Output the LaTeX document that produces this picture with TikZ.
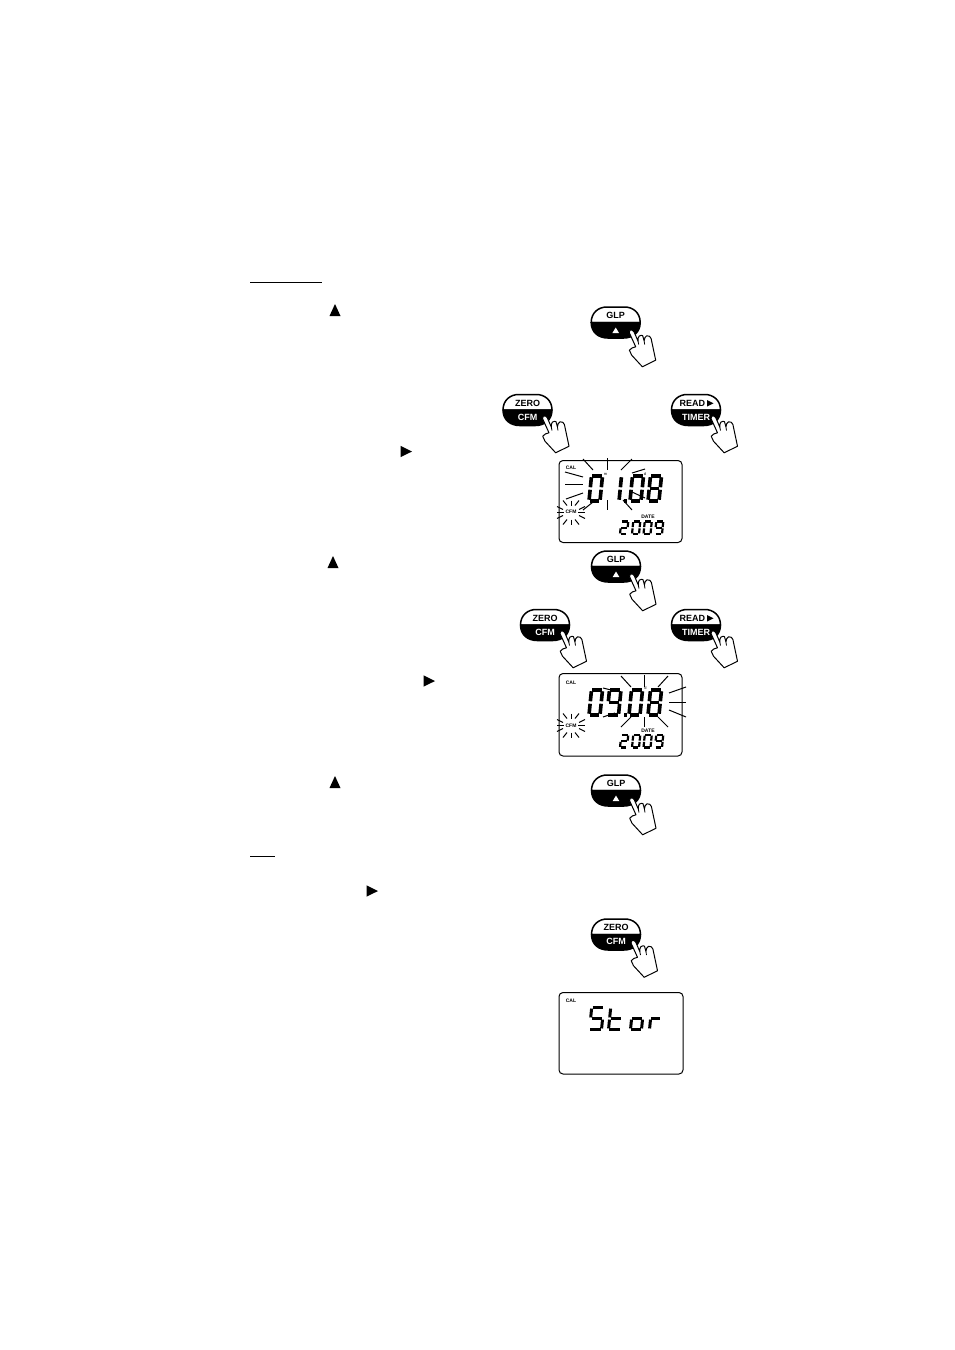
\documentclass[tikz,border=0pt]{standalone}
\usepackage{fontspec}
\setmainfont{Liberation Sans}
\tikzset{
  x=1pt,y=-1pt,
  btntop/.style={fill=white,draw=black,line width=1.5pt,line join=round},
  btnbot/.style={fill=black,draw=black,line width=1.5pt,line join=round},
  btnlabel/.style={inner sep=0pt,font=\fontsize{9}{10}\selectfont\bfseries},
  handshape/.style={fill=white,draw=black,line width=1pt,line join=round},
  lcdframe/.style={draw=black,line width=1pt,fill=white,rounded corners=4pt},
  ray/.style={draw=black,line width=1pt},
  tinylabel/.style={inner sep=0pt,font=\fontsize{5}{5}\selectfont\bfseries},
  rulestroke/.style={draw=black,line width=1pt},
  trisym/.style={fill=black,draw=none}
}
% segments in a unit box, y upward from the digit's lower-left corner
\def\sega{(.08,1)--(.92,1)}
\def\segb{(1,.95)--(1,.55)}
\def\segc{(1,.45)--(1,.05)}
\def\segd{(.08,0)--(.92,0)}
\def\sege{(0,.45)--(0,.05)}
\def\segf{(0,.95)--(0,.55)}
\def\segg{(.08,.5)--(.92,.5)}
% x, y(bottom), width, height, line width, segments
\newcommand{\lcdchar}[6]{%
  \begin{scope}[shift={(#1,#2)},xslant=.1,x=#3pt,y=#4pt]
    \foreach \s in {#6}{\draw[line width=#5pt,line cap=butt] \csname seg\s\endcsname;}
  \end{scope}}
\newcommand{\btn}[6]{% name, x, y, top, bottom text, top text x
  \begin{scope}[shift={(#2,#3)}]
    \path[btntop] (-24.5,0) .. controls (-24.5,-10) and (-17,-15.5) .. (-9,-15.5) -- (9,-15.5) .. controls (17,-15.5) and (24.5,-10) .. (24.5,0) -- cycle;
    \path[btnbot] (-24.5,0) .. controls (-24.5,10) and (-17,15.5) .. (-8,15.5) -- (8,15.5) .. controls (17,15.5) and (24.5,10) .. (24.5,0) -- cycle;
    \node[btnlabel] (#1top) at (#6,-6.7) {#4};
    \node[btnlabel,text=white] (#1bot) at (0,7.3) {#5};
  \end{scope}}
\newcommand{\fingerhand}[2]{%
  \begin{scope}[shift={(#1,#2)}]
    \path[handshape] (14.3,7.7) .. controls (15.5,6.8) and (17.5,7.5) .. (18.3,9.3) -- (22.3,18.5)
      .. controls (22.3,16) and (22.5,14.3) .. (23.5,13.6) .. controls (25,12.5) and (26.5,12.5) .. (27,13.2)
      -- (28.4,18.3) .. controls (28.8,16) and (29.5,13.6) .. (31,13.3) .. controls (33,13) and (35,14) .. (35.4,16)
      -- (40,37.7) -- (26.7,44.3) -- (16,32.7) -- (13.7,27.7) .. controls (14.5,26) and (18,24.5) .. (20,24.3)
      -- (13.5,10) .. controls (13.3,9) and (13.5,8.2) .. (14.3,7.7) -- cycle;
    \path[draw=black,line width=.8pt] (22.3,18.5) -- (23,22);
    \path[draw=black,line width=.8pt] (28.4,18.3) -- (29,22);
  \end{scope}}
\newcommand{\cfmflash}[2]{%
  \begin{scope}[shift={(#1,#2)}]
    \foreach \a/\b/\c/\d in {0/-12/0/-7, 0/7/0/12, -14/0/-7/0, 7/0/14/0, -8/-12/-4/-7, 8/-12/4/-7, -14/-6/-8/-3, 14/-6/8/-3, -14/6/-8/3, 14/6/8/3, -8/12/-4/7, 8/12/4/7}
      {\path[ray] (\a,\b) -- (\c,\d);}
  \end{scope}}
\newcommand{\symup}[2]{\path[trisym] (#1-5.5,#2+6) -- (#1+5.5,#2+6) -- (#1,#2-6) -- cycle;}
\newcommand{\symright}[2]{\path[trisym] (#1-5.5,#2-5.7) -- (#1+6,#2) -- (#1-5.5,#2+5.7) -- cycle;}
\begin{document}
\begin{tikzpicture}
\useasboundingbox[fill=white] (0,0) rectangle (954,1350);
% rules and margin symbols
\path[rulestroke] (250,282.5) -- (322,282.5);
\path[rulestroke] (250,856.5) -- (275,856.5);
\symup{335}{310}
\symup{333}{562}
\symup{335}{782}
\symright{406}{451.5}
\symright{429}{681}
\symright{372}{891}
% buttons
\btn{glpa}{615.7}{322.5}{GLP}{}{0}
\path[fill=white] (612.4,333) -- (619,333) -- (615.7,327.5) -- cycle;
\fingerhand{615.7}{322.5}
\btn{zeroa}{527.5}{410}{ZERO}{CFM}{0}
\fingerhand{529}{408.5}
\btn{reada}{696}{410}{READ}{TIMER}{-3.7}
\path[fill=black] (707,400) -- (713.5,403.3) -- (707,406.6) -- cycle;
\fingerhand{697.5}{408.5}
\btn{glpb}{616}{566.5}{GLP}{}{0}
\path[fill=white] (612.7,577) -- (619.3,577) -- (616,571.5) -- cycle;
\fingerhand{616}{566.5}
\btn{zerob}{545}{625}{ZERO}{CFM}{0}
\fingerhand{546.5}{623.5}
\btn{readb}{696}{625}{READ}{TIMER}{-3.7}
\path[fill=black] (707,615) -- (713.5,618.3) -- (707,621.6) -- cycle;
\fingerhand{697.5}{623.5}
\btn{glpc}{616}{790.5}{GLP}{}{0}
\path[fill=white] (612.7,801) -- (619.3,801) -- (616,795.5) -- cycle;
\fingerhand{616}{790.5}
\btn{zeroc}{616}{934.5}{ZERO}{CFM}{0}
\fingerhand{617.5}{933}
% display 1
\path[lcdframe] (559,460.5) rectangle (682,542.5);
\foreach \a/\b/\c/\d in {583/459/593/470, 607/458/607/470, 632/459/621/470, 565/472/583/477, 565/484/583/484, 566/499/583/493, 583/510/593/502, 607/500/607/510, 623/500/632/510, 632/492/645/498, 632/473/645/469}
  {\path[ray] (\a,\b) -- (\c,\d);}
\lcdchar{589}{501}{11}{25}{3.6}{a,b,c,d,e,f}
\lcdchar{619}{501}{.01}{25}{3.6}{b,c}
\lcdchar{630}{501}{11}{25}{3.6}{a,b,c,d,e,f}
\lcdchar{648}{501}{11}{25}{3.6}{a,b,c,d,e,f,g}
\path[fill=black] (623.5,499) rectangle (626.5,502.5);
\lcdchar{620}{534}{7}{12.5}{2.2}{a,b,g,e,d}
\lcdchar{632}{534}{7}{12.5}{2.2}{a,b,c,d,e,f}
\lcdchar{643.5}{534}{7}{12.5}{2.2}{a,b,c,d,e,f}
\lcdchar{655}{534}{7}{12.5}{2.2}{a,b,c,d,f,g}
\node[tinylabel] (cala) at (571,468) {CAL};
\node[tinylabel] (cfma) at (571,512) {CFM};
\node[tinylabel] (datea) at (648,517) {DATE};
\node[tinylabel,font=\fontsize{4}{4}\selectfont] (unitma) at (605.5,474.5) {m};
\node[tinylabel,font=\fontsize{4}{4}\selectfont] (unitda) at (645,474) {d};
\cfmflash{571}{512.5}
% display 2
\path[lcdframe] (559,673.5) rectangle (682,756);
\foreach \a/\b/\c/\d in {621/676/631/687, 644/675/644/687, 668/676/658/687, 669/693/686/687, 669/702/686/702, 669/710/686/717, 621/727/631/717, 644/717/644/727, 668/727/658/717, 603/688/615/691, 603/717/615/713}
  {\path[ray] (\a,\b) -- (\c,\d);}
\lcdchar{589}{715}{11}{25}{3.6}{a,b,c,d,e,f}
\lcdchar{607}{715}{11.5}{25}{3.6}{a,b,c,d,f,g}
\lcdchar{629}{715}{11}{25}{3.6}{a,b,c,d,e,f}
\lcdchar{648}{715}{11}{25}{3.6}{a,b,c,d,e,f,g}
\path[fill=black] (624,713) rectangle (627,716.5);
\lcdchar{620}{747.5}{7}{12.5}{2.2}{a,b,g,e,d}
\lcdchar{632}{747.5}{7}{12.5}{2.2}{a,b,c,d,e,f}
\lcdchar{643.5}{747.5}{7}{12.5}{2.2}{a,b,c,d,e,f}
\lcdchar{655}{747.5}{7}{12.5}{2.2}{a,b,c,d,f,g}
\node[tinylabel] (calb) at (571,683) {CAL};
\node[tinylabel] (cfmb) at (571,725.5) {CFM};
\node[tinylabel] (dateb) at (648,731) {DATE};
\node[tinylabel,font=\fontsize{4}{4}\selectfont] (unitdb) at (645.5,688.5) {d};
\cfmflash{571}{725.5}
% display 3
\path[lcdframe] (559,992.5) rectangle (683,1074);
\lcdchar{589.5}{1029.5}{12}{22}{3}{a,f,g,c,d}
\lcdchar{608.5}{1029.5}{12}{22}{3}{f,e,g,d}
\lcdchar{630.5}{1029.5}{11}{22}{3}{g,c,d,e}
\lcdchar{649.5}{1029.5}{10}{22}{3}{g,e}
\node[tinylabel] (calc) at (571,1001) {CAL};
\end{tikzpicture}
\end{document}
